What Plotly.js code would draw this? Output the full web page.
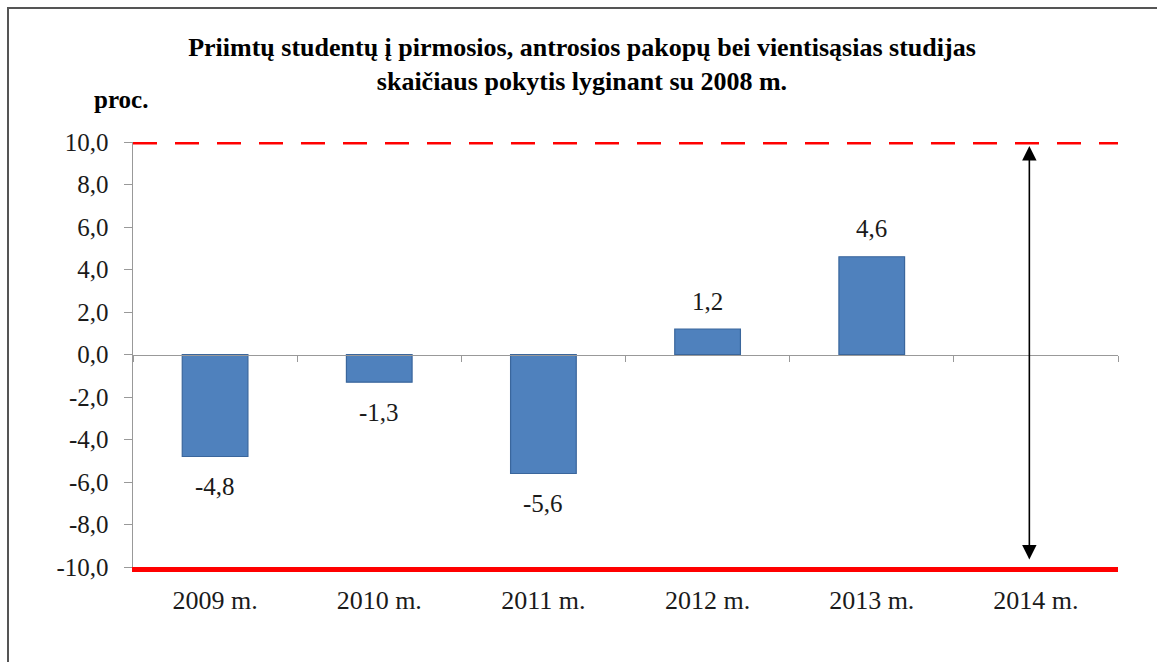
<!DOCTYPE html>
<html>
<head>
<meta charset="utf-8">
<script src="https://cdn.plot.ly/plotly-3.0.1.min.js"></script>
<style>
html, body { margin: 0; padding: 0; background: #fff; }
#frame { position: absolute; left: 7px; top: 7px; width: 1160px; height: 670px; border-top: 2px solid #555; border-left: 2px solid #555; box-sizing: border-box; }
#chart { position: absolute; left: 0; top: 0; width: 1157px; height: 662px; }
</style>
</head>
<body>
<div id="frame"></div>
<div id="chart"></div>
<script>
const years = ["2009 m.", "2010 m.", "2011 m.", "2012 m.", "2013 m.", "2014 m."];
const values = [-4.8, -1.3, -5.6, 1.2, 4.6, null];
const valueLabels = ["-4,8", "-1,3", "-5,6", "1,2", "4,6", ""];
const yTickVals = [-10, -8, -6, -4, -2, 0, 2, 4, 6, 8, 10];
const yTickText = ["-10,0", "-8,0", "-6,0", "-4,0", "-2,0", "0,0", "2,0", "4,0", "6,0", "8,0", "10,0"];
const upperLimit = 10;
const lowerLimit = -10;
const titleText = "Priimtų studentų į pirmosios, antrosios pakopų bei vientisąsias studijas<br>skaičiaus pokytis lyginant su 2008 m.";
const unitLabel = "proc.";
const arrowCategoryPos = 4.96;

const serif = "Liberation Serif";

const bars = {
  type: "bar",
  x: years,
  y: values,
  marker: { color: "#4f81bd", line: { color: "#3a669c", width: 1.2 } },
  hoverinfo: "x+y",
  showlegend: false
};

const dummy = {
  type: "scatter",
  x: years,
  y: values,
  xaxis: "x2",
  mode: "markers",
  marker: { opacity: 0 },
  hoverinfo: "skip",
  showlegend: false
};

const labelAnnotations = years.map((yr, i) => values[i] === null ? null : ({
  text: valueLabels[i],
  xref: "x", yref: "y", x: yr, y: values[i],
  showarrow: false,
  yanchor: "middle",
  yshift: values[i] >= 0 ? 28 : -30,
  font: { family: serif, size: 25, color: "#1a1a1a" }
})).filter(a => a);

const layout = {
  width: 1157,
  height: 662,
  margin: { l: 133, r: 39, t: 142, b: 95 },
  paper_bgcolor: "rgba(0,0,0,0)",
  plot_bgcolor: "rgba(0,0,0,0)",
  bargap: 0.6,
  title: {
    text: titleText,
    font: { family: serif, size: 26, color: "#000", weight: "bold" },
    xref: "container", x: 0.503, xanchor: "center",
    yref: "container", y: 1 - 56 / 662, yanchor: "middle"
  },
  xaxis: {
    type: "category",
    categoryarray: years,
    range: [-0.5, 5.5],
    showline: true, linecolor: "#ff0000", linewidth: 5,
    ticks: "",
    showgrid: false, zeroline: false,
    tickfont: { family: serif, size: 26, color: "#1a1a1a" },
    ticklabelstandoff: 6,
    fixedrange: true
  },
  xaxis2: {
    type: "category",
    categoryarray: years,
    range: [-0.5, 5.5],
    overlaying: "x",
    anchor: "free",
    position: 0.5,
    showline: true, linecolor: "#999", linewidth: 1.5,
    ticks: "outside", ticklen: 6, tickcolor: "#999", tickwidth: 1,
    tickson: "boundaries",
    showticklabels: false,
    showgrid: false, zeroline: false,
    fixedrange: true
  },
  yaxis: {
    range: [lowerLimit, upperLimit],
    tickmode: "array",
    tickvals: yTickVals,
    ticktext: yTickText,
    showline: true, linecolor: "#999", linewidth: 1.5,
    ticks: "outside", ticklen: 8, tickcolor: "#999",
    ticklabelstandoff: 10,
    showgrid: false, zeroline: false,
    tickfont: { family: serif, size: 25, color: "#1a1a1a" },
    fixedrange: true
  },
  shapes: [
    {
      type: "line", xref: "paper", x0: 0, x1: 1, yref: "y", y0: upperLimit, y1: upperLimit,
      line: { color: "#ff0000", width: 5, dash: "24px,18px" }
    }
  ],
  annotations: [
    {
      text: "<b>" + unitLabel + "</b>",
      xref: "paper", x: -0.042, xanchor: "left",
      yref: "paper", y: (567 - 100) / 425, yanchor: "middle",
      showarrow: false,
      font: { family: serif, size: 25, color: "#000" }
    },
    {
      text: "",
      xref: "x", yref: "y", x: arrowCategoryPos, y: upperLimit,
      axref: "x", ayref: "y", ax: arrowCategoryPos, ay: lowerLimit,
      showarrow: true, arrowside: "end+start", arrowhead: 2, startarrowhead: 2,
      arrowsize: 1.8, startarrowsize: 1.8, arrowwidth: 1.6, arrowcolor: "#000",
      standoff: 4, startstandoff: 6
    }
  ].concat(labelAnnotations)
};

Plotly.newPlot("chart", [bars, dummy], layout, { displayModeBar: false, staticPlot: true });
</script>
</body>
</html>
